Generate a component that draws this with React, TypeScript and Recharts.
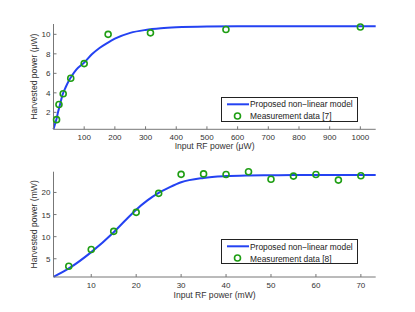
import React from "react";
import { ComposedChart, Line, Scatter, XAxis, YAxis } from "recharts";

// top panel: input in uW
const topModelX = [0, 5, 10, 15, 20, 30, 40, 50, 60, 75, 100, 125, 150, 175, 200, 250, 300, 350, 400, 500, 600, 700, 800, 900, 1000, 1050];
const topModelY = [0.26, 0.8, 1.34, 2.05, 2.65, 3.85, 4.6, 5.25, 5.75, 6.4, 7.1, 7.95, 8.6, 9.1, 9.55, 10.15, 10.45, 10.62, 10.72, 10.8, 10.82, 10.83, 10.83, 10.83, 10.83, 10.83];
const topMeasX = [10, 17.8, 31.6, 56.2, 100, 178, 316, 562, 1000];
const topMeasY = [1.25, 2.8, 3.9, 5.5, 7.0, 10.0, 10.15, 10.5, 10.75];
const topXTicks = [100, 200, 300, 400, 500, 600, 700, 800, 900, 1000];
const topYTicks = [2, 4, 6, 8, 10];

// bottom panel: input in mW
const botModelX = [1.6, 5, 10, 15, 17.5, 20, 22.5, 25, 27.5, 30, 35, 40, 45, 50, 55, 60, 65, 70, 73.3];
const botModelY = [0.9, 2.8, 6.5, 11.0, 13.6, 16.1, 18.2, 19.9, 21.2, 22.3, 23.3, 23.7, 23.85, 23.9, 23.95, 23.95, 23.95, 23.95, 23.95];
const botMeasX = [5, 10, 15, 20, 25, 30, 35, 40, 45, 50, 55, 60, 65, 70];
const botMeasY = [3.3, 7.1, 11.2, 15.5, 19.8, 24.1, 24.2, 24.05, 24.7, 23.0, 23.7, 24.05, 22.8, 23.8];
const botXTicks = [10, 20, 30, 40, 50, 60, 70];
const botYTicks = [5, 10, 15, 20];

const BLUE = "#2442f2";
const GREEN = "#1f9e14";
const AXIS = "#777";
const TEXT = "#333";
const FONT = "'Liberation Sans', Arial, Helvetica, sans-serif";

const zip = (xs: number[], ys: number[]) => xs.map((x, i) => ({ x, y: ys[i] }));

const XTick = (props: any) => {
  const { x, y, payload } = props;
  return (
    <g>
      <line x1={x} x2={x} y1={y} y2={y - 3} stroke={AXIS} />
      <text x={x} y={y + 11} textAnchor="middle" fontSize={8} fill={TEXT} fontFamily={FONT}>
        {payload.value}
      </text>
    </g>
  );
};

const YTick = (props: any) => {
  const { x, y, payload } = props;
  return (
    <g>
      <line x1={x} x2={x + 3} y1={y} y2={y} stroke={AXIS} />
      <text x={x - 3} y={y + 3} textAnchor="end" fontSize={8} fill={TEXT} fontFamily={FONT}>
        {payload.value}
      </text>
    </g>
  );
};

const Ring = (props: any) => (
  <circle cx={props.cx} cy={props.cy} r={3} fill="none" stroke={GREEN} strokeWidth={1.6} />
);

function LegendBox({ label, left, top }: { label: string; left: number; top: number }) {
  return (
    <div
      style={{
        position: "absolute",
        left,
        top,
        width: 137,
        height: 25,
        border: "1px solid #222",
        background: "#fff",
        fontFamily: FONT,
        fontSize: 8.4,
        color: "#222",
        boxSizing: "border-box",
      }}
    >
      <svg width={30} height={23} style={{ position: "absolute", left: 0, top: 0 }}>
        <line x1={5} x2={27} y1={6.3} y2={6.3} stroke={BLUE} strokeWidth={2} />
        <circle cx={15.5} cy={18} r={3} fill="none" stroke={GREEN} strokeWidth={1.6} />
      </svg>
      <div style={{ position: "absolute", left: 28, top: 1.5, whiteSpace: "nowrap", lineHeight: "10px" }}>
        Proposed non−linear model
      </div>
      <div style={{ position: "absolute", left: 28, top: 13.5, whiteSpace: "nowrap", lineHeight: "10px" }}>
        {label}
      </div>
    </div>
  );
}

function Panel({
  model,
  meas,
  xDomain,
  yDomain,
  xTicks,
  yTicks,
  xLabel,
  yLabel,
  top,
  axisH,
  labelDy,
}: {
  model: { x: number; y: number }[];
  meas: { x: number; y: number }[];
  xDomain: [number, number];
  yDomain: [number, number];
  xTicks: number[];
  yTicks: number[];
  xLabel: string;
  yLabel: string;
  top: number;
  axisH: number;
  labelDy: number;
}) {
  return (
    <ComposedChart
      width={415}
      height={156}
      margin={{ top, right: 39.3, bottom: 0, left: 0 }}
      style={{ fontFamily: FONT }}
    >
      <XAxis
        type="number"
        dataKey="x"
        domain={xDomain}
        ticks={xTicks}
        interval={0}
        stroke={AXIS}
        tickLine={false}
        tickSize={0}
        tickMargin={0}
        height={axisH}
        tick={<XTick />}
        label={(p: any) => {
          const vb = p.viewBox;
          return (
            <text
              x={vb.x + vb.width / 2}
              y={vb.y + labelDy}
              textAnchor="middle"
              fontSize={8.6}
              fill={TEXT}
              fontFamily={FONT}
            >
              {xLabel}
            </text>
          );
        }}
      />
      <YAxis
        type="number"
        domain={yDomain}
        ticks={yTicks}
        interval={0}
        width={53.5}
        stroke={AXIS}
        tickLine={false}
        tickSize={0}
        tickMargin={0}
        tick={<YTick />}
        label={(p: any) => {
          const vb = p.viewBox;
          const cy = vb.y + vb.height / 2;
          return (
            <text
              x={37}
              y={cy}
              transform={`rotate(-90, 37, ${cy})`}
              textAnchor="middle"
              fontSize={8.6}
              fill={TEXT}
              fontFamily={FONT}
            >
              {yLabel}
            </text>
          );
        }}
      />
      <Line
        data={model}
        dataKey="y"
        type="monotone"
        stroke={BLUE}
        strokeWidth={2}
        dot={false}
        isAnimationActive={false}
      />
      <Scatter data={meas} dataKey="y" shape={<Ring />} isAnimationActive={false} />
    </ComposedChart>
  );
}

export default function App() {
  return (
    <div style={{ position: "absolute", left: 0, top: 0, width: 415, height: 312, background: "#fff" }}>
      <Panel
        model={zip(topModelX, topModelY)}
        meas={zip(topMeasX, topMeasY)}
        xDomain={[0, 1050]}
        yDomain={[0.26, 11.06]}
        xTicks={topXTicks}
        yTicks={topYTicks}
        xLabel="Input RF power (μW)"
        yLabel="Harvested power (μW)"
        top={24}
        axisH={26.7}
        labelDy={19.5}
      />
      <Panel
        model={zip(botModelX, botModelY)}
        meas={zip(botMeasX, botMeasY)}
        xDomain={[1.6, 73.3]}
        yDomain={[0.87, 24.7]}
        xTicks={botXTicks}
        yTicks={botYTicks}
        xLabel="Input RF power (mW)"
        yLabel="Harvested power (mW)"
        top={15.7}
        axisH={35}
        labelDy={21}
      />
      <LegendBox label="Measurement data [7]" left={221} top={96.5} />
      <LegendBox label="Measurement data [8]" left={221} top={239} />
    </div>
  );
}
